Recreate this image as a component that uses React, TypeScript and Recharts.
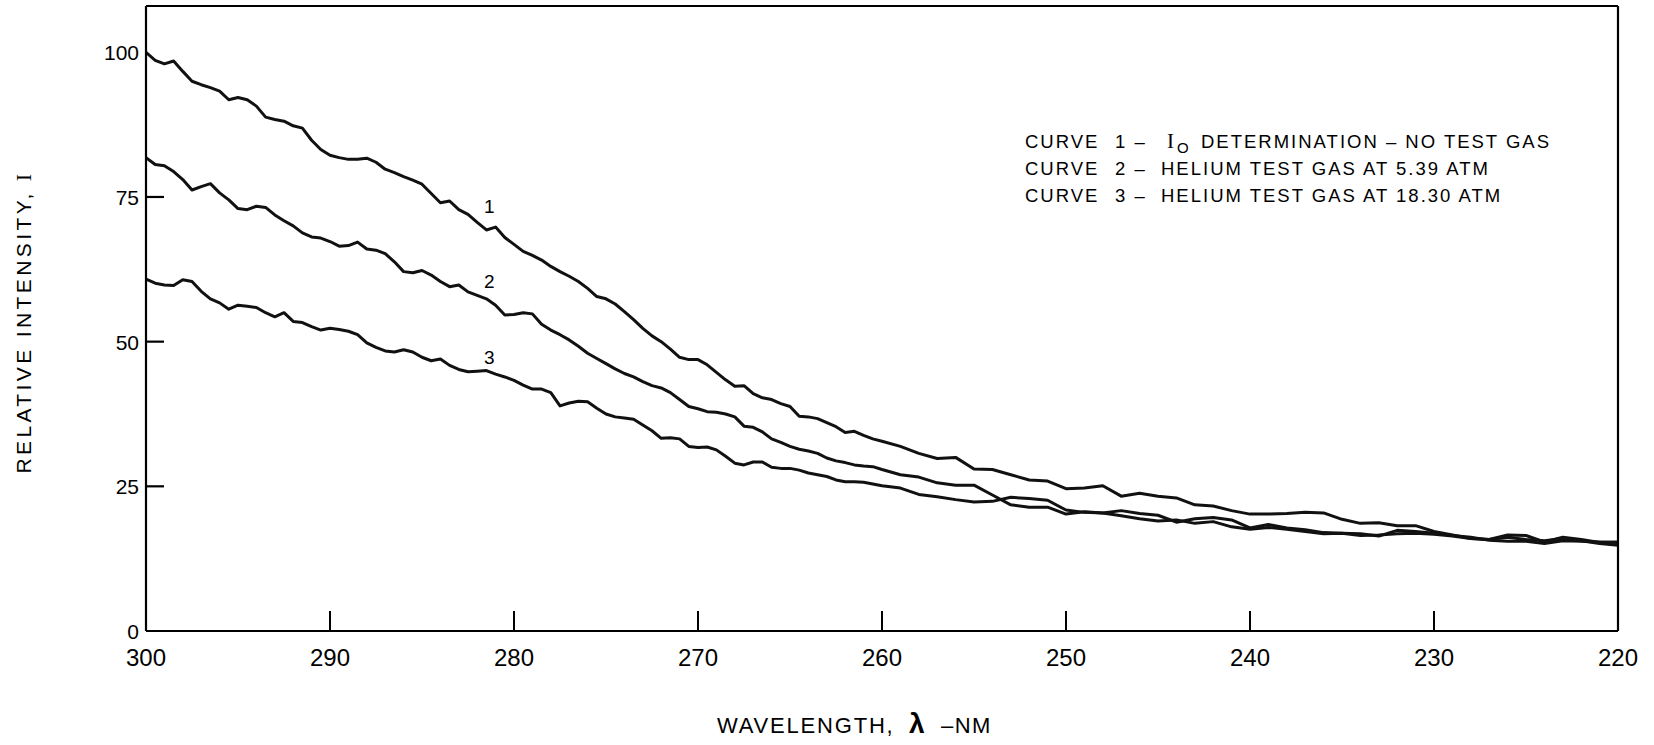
import React from 'react';
import { LineChart, Line, XAxis, YAxis, Customized } from 'recharts';

const W = 1654;
const H = 745;
const Y_AXIS_W = 60;
const X_AXIS_H = 40;
const MARGIN = { top: 5, right: 35, bottom: 114 - X_AXIS_H, left: 146 - Y_AXIS_W };
const FONT = '"Liberation Sans", Arial, Helvetica, sans-serif';
const SERIF = '"Liberation Serif", "DejaVu Serif", serif';

const wavelengths = [
  300, 299.5, 299, 298.5, 298, 297.5, 297, 296.5, 296, 295.5, 295, 294.5, 294, 293.5, 293, 292.5, 292, 291.5, 291, 290.5, 290,
  289.5, 289, 288.5, 288, 287.5, 287, 286.5, 286, 285.5, 285, 284.5, 284, 283.5, 283, 282.5, 282, 281.5, 281, 280.5, 280,
  279.5, 279, 278.5, 278, 277.5, 277, 276.5, 276, 275.5, 275, 274.5, 274, 273.5, 273, 272.5, 272, 271.5, 271, 270.5, 270,
  269.5, 269, 268.5, 268, 267.5, 267, 266.5, 266, 265.5, 265, 264.5, 264, 263.5, 263, 262.5, 262, 261.5, 261, 260.5, 260,
  259, 258, 257, 256, 255, 254, 253, 252, 251, 250, 249, 248, 247, 246, 245, 244, 243, 242, 241, 240,
  239, 238, 237, 236, 235, 234, 233, 232, 231, 230, 229, 228, 227, 226, 225, 224, 223, 222, 221, 220,
];

const curve1 = [
  100.0, 98.6, 98.0, 98.5, 96.7, 95.0, 94.4, 93.9, 93.3, 91.8, 92.2, 91.8, 90.7, 88.8, 88.4, 88.1, 87.3, 86.9, 84.8, 83.2, 82.2,
  81.8, 81.5, 81.5, 81.7, 81.0, 79.8, 79.2, 78.5, 77.9, 77.2, 75.6, 74.0, 74.3, 72.8, 72.0, 70.6, 69.3, 69.8, 68.0, 66.8,
  65.6, 64.9, 64.1, 63.0, 62.1, 61.3, 60.4, 59.2, 57.8, 57.4, 56.5, 55.2, 53.8, 52.3, 51.0, 50.0, 48.7, 47.3, 46.9, 46.9,
  46.0, 44.7, 43.4, 42.3, 42.4, 41.0, 40.3, 40.0, 39.3, 38.8, 37.1, 37.0, 36.7, 36.0, 35.3, 34.3, 34.5, 33.8, 33.2, 32.8,
  31.9, 30.7, 29.8, 30.0, 28.0, 27.9, 27.0, 26.1, 25.9, 24.6, 24.7, 25.1, 23.3, 23.8, 23.3, 23.0, 21.8, 21.6, 20.8, 20.2,
  20.2, 20.3, 20.5, 20.4, 19.3, 18.6, 18.7, 18.2, 18.2, 17.2, 16.6, 16.0, 15.8, 16.6, 16.5, 15.4, 16.2, 15.8, 15.3, 15.4,
];

const curve2 = [
  81.8, 80.6, 80.4, 79.4, 78.0, 76.2, 76.8, 77.3, 75.7, 74.5, 73.0, 72.8, 73.4, 73.2, 71.9, 70.9, 70.0, 68.8, 68.1, 67.9, 67.3,
  66.5, 66.6, 67.2, 66.0, 65.8, 65.2, 63.8, 62.1, 61.9, 62.3, 61.5, 60.4, 59.5, 59.8, 58.6, 58.0, 57.4, 56.3, 54.6, 54.7,
  55.0, 54.8, 53.0, 52.0, 51.2, 50.3, 49.2, 48.0, 47.1, 46.2, 45.3, 44.5, 43.9, 43.1, 42.4, 42.0, 41.2, 40.0, 38.8, 38.4,
  37.9, 37.8, 37.5, 37.0, 35.4, 35.2, 34.4, 33.2, 32.6, 31.9, 31.4, 31.1, 30.7, 29.9, 29.4, 29.1, 28.7, 28.5, 28.4, 27.9,
  27.0, 26.6, 25.6, 25.2, 25.2, 23.5, 21.8, 21.4, 21.4, 20.2, 20.6, 20.4, 20.8, 20.3, 20.0, 18.8, 19.4, 19.6, 19.2, 17.8,
  18.4, 17.8, 17.5, 17.0, 16.9, 16.8, 16.4, 17.4, 17.2, 16.9, 16.5, 16.2, 15.7, 15.5, 15.5, 15.1, 15.6, 15.5, 15.4, 15.3,
];

const curve3 = [
  60.8, 60.1, 59.8, 59.7, 60.7, 60.4, 58.7, 57.4, 56.7, 55.6, 56.3, 56.1, 55.9, 55.0, 54.3, 55.0, 53.5, 53.3, 52.6, 52.0, 52.3,
  52.1, 51.8, 51.2, 49.8, 49.0, 48.4, 48.2, 48.6, 48.2, 47.3, 46.7, 47.0, 45.9, 45.2, 44.8, 44.9, 45.0, 44.4, 43.9, 43.3,
  42.5, 41.8, 41.8, 41.2, 38.9, 39.4, 39.7, 39.6, 38.5, 37.5, 37.0, 36.8, 36.6, 35.6, 34.6, 33.3, 33.4, 33.2, 31.9, 31.7,
  31.8, 31.3, 30.2, 29.0, 28.7, 29.2, 29.2, 28.3, 28.1, 28.1, 27.8, 27.3, 27.0, 26.7, 26.1, 25.8, 25.8, 25.7, 25.4, 25.1,
  24.7, 23.6, 23.2, 22.7, 22.3, 22.4, 23.1, 22.9, 22.6, 20.9, 20.5, 20.4, 19.9, 19.4, 19.0, 19.2, 18.6, 18.9, 18.0, 17.6,
  17.9, 17.6, 17.2, 16.8, 16.9, 16.5, 16.6, 16.8, 16.9, 16.7, 16.4, 16.0, 15.8, 16.2, 15.8, 15.6, 16.0, 15.6, 15.1, 14.8,
];

const xTicks = [300, 290, 280, 270, 260, 250, 240, 230, 220];
const yTicks = [0, 25, 50, 75, 100];
const yInnerTicks = [25, 50, 75];
const xDomain = [220, 300];
const yDomain = [0, 108];

const curveNames = ['1', '2', '3'];
const curveLabelAt = 281.5;
const curveLabelDy = [-17, -11, -7];

const legendRows = [
  { num: '1', text: 'DETERMINATION \u2013 NO TEST GAS', io: true },
  { num: '2', text: 'HELIUM TEST GAS AT 5.39 ATM', io: false },
  { num: '3', text: 'HELIUM TEST GAS AT 18.30 ATM', io: false },
];

const data = wavelengths.map((w, i) => ({ w, c1: curve1[i], c2: curve2[i], c3: curve3[i] }));

const XTick = (props: any) => {
  const { x, y, payload } = props;
  const v = payload.value;
  const inner = v !== xTicks[0] && v !== xTicks[xTicks.length - 1];
  return (
    <g>
      {inner && <line x1={x} x2={x} y1={y} y2={y - 20} stroke="#000" strokeWidth={2} />}
      <text x={x} y={y + 35} textAnchor="middle" fontSize={24} fontFamily={FONT} fill="#000">
        {v}
      </text>
    </g>
  );
};

const YTick = (props: any) => {
  const { x, y, payload } = props;
  const v = payload.value;
  return (
    <g>
      {yInnerTicks.includes(v) && <line x1={x} x2={x + 18} y1={y} y2={y} stroke="#000" strokeWidth={2.2} />}
      <text x={x - 7} y={y + 8} textAnchor="end" fontSize={21} fontFamily={FONT} fill="#000">
        {v}
      </text>
    </g>
  );
};

const makeCurveLabel = (k: number) => (props: any) => {
  const { x, y, index } = props;
  if (data[index] === undefined || data[index].w !== curveLabelAt) return null;
  return (
    <text key={`cl${k}`} x={x + 3} y={y + curveLabelDy[k]} textAnchor="middle" fontSize={19} fontFamily={FONT} fill="#000">
      {curveNames[k]}
    </text>
  );
};

const Overlay = () => (
  <g>
    <text
      x={31}
      y={322}
      transform="rotate(-90 31 322)"
      textAnchor="middle"
      fontSize={21}
      letterSpacing={3.4}
      fontFamily={FONT}
      fill="#000"
    >
      RELATIVE INTENSITY,{' '}
      <tspan fontFamily={SERIF} fontSize={22}>I</tspan>
    </text>
    <text x={717} y={733} fontSize={22} letterSpacing={1.8} fontFamily={FONT} fill="#000">
      WAVELENGTH,
    </text>
    <text x={909} y={733} fontSize={28} fontWeight="bold" fontFamily={FONT} fill="#000">
      {'\u03bb'}
    </text>
    <text x={941} y={733} fontSize={22} letterSpacing={1.5} fontFamily={FONT} fill="#000">
      {'\u2013NM'}
    </text>
    {legendRows.map((r, i) => {
      const y = 148 + i * 27;
      return (
        <g key={i}>
          <text x={1025} y={y} fontSize={18.5} letterSpacing={2} fontFamily={FONT} fill="#000">
            CURVE
          </text>
          <text x={1115} y={y} fontSize={18.5} letterSpacing={2} fontFamily={FONT} fill="#000">
            {`${r.num} \u2013`}
          </text>
          {r.io ? (
            <>
              <text x={1167} y={y} fontSize={21} fontFamily={SERIF} fill="#000">
                I
              </text>
              <text x={1177} y={y + 5} fontSize={15} fontFamily={FONT} fill="#000">
                O
              </text>
              <text x={1201} y={y} fontSize={18.5} letterSpacing={2} fontFamily={FONT} fill="#000">
                {r.text}
              </text>
            </>
          ) : (
            <text x={1161} y={y} fontSize={18.5} letterSpacing={2} fontFamily={FONT} fill="#000">
              {r.text}
            </text>
          )}
        </g>
      );
    })}
  </g>
);

export default function App() {
  const lineProps = {
    type: 'linear' as const,
    stroke: '#111',
    strokeWidth: 3,
    dot: false,
    isAnimationActive: false,
    strokeLinejoin: 'round' as const,
  };
  return (
    <div style={{ position: 'absolute', left: 0, top: 0, width: W, height: H, background: '#fff' }}>
      <LineChart width={W} height={H} data={data} margin={MARGIN}>
        <XAxis
          dataKey="w"
          type="number"
          domain={xDomain}
          reversed
          ticks={xTicks}
          interval={0}
          height={X_AXIS_H}
          tickSize={0}
          tickMargin={0}
          tickLine={false}
          tick={<XTick />}
          axisLine={{ stroke: '#000', strokeWidth: 2.2 }}
          allowDataOverflow
        />
        <XAxis
          xAxisId="top"
          orientation="top"
          dataKey="w"
          type="number"
          domain={xDomain}
          reversed
          height={1}
          tick={false}
          tickLine={false}
          axisLine={{ stroke: '#000', strokeWidth: 2 }}
        />
        <YAxis
          type="number"
          domain={yDomain}
          ticks={yTicks}
          interval={0}
          width={Y_AXIS_W}
          tickSize={0}
          tickMargin={0}
          tickLine={false}
          tick={<YTick />}
          axisLine={{ stroke: '#000', strokeWidth: 2.2 }}
          allowDataOverflow
        />
        <YAxis
          yAxisId="right"
          orientation="right"
          type="number"
          domain={yDomain}
          width={1}
          tick={false}
          tickLine={false}
          axisLine={{ stroke: '#000', strokeWidth: 2.2 }}
        />
        <Line dataKey="c1" {...lineProps} label={makeCurveLabel(0)} />
        <Line dataKey="c2" {...lineProps} label={makeCurveLabel(1)} />
        <Line dataKey="c3" {...lineProps} label={makeCurveLabel(2)} />
        <Customized component={Overlay} />
      </LineChart>
    </div>
  );
}
